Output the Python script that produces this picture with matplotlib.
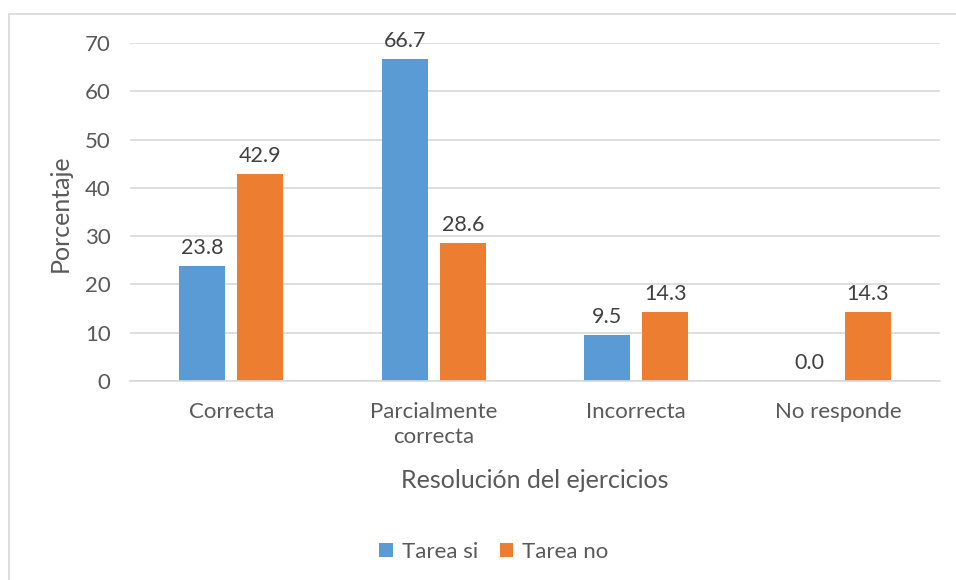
import matplotlib.pyplot as plt
import numpy as np
from matplotlib.patches import Rectangle

plt.rcParams['font.family'] = ['Lato', 'DejaVu Sans']

# datos
categorias = ["Correcta", "Parcialmente\ncorrecta", "Incorrecta", "No responde"]
tarea_si = [23.8, 66.7, 9.5, 0.0]
tarea_no = [42.9, 28.6, 14.3, 14.3]
series = ["Tarea si", "Tarea no"]

azul = "#5B9BD5"
naranja = "#ED7D31"
gris = "#595959"

fig = plt.figure(figsize=(9.56, 5.8), dpi=100)
ax = fig.add_axes([130/956, 1-381/580, 810/956, 338/580])

x = np.arange(len(categorias))
ancho = 0.227
sep = 0.03
b1 = ax.bar(x - ancho/2 - sep, tarea_si, ancho, color=azul, label=series[0])
b2 = ax.bar(x + ancho/2 + sep, tarea_no, ancho, color=naranja, label=series[1])

for barras in (b1, b2):
    for b in barras:
        ax.text(b.get_x() + b.get_width()/2, b.get_height() + 1.6,
                f"{b.get_height():.1f}", ha="center", va="bottom",
                fontsize=15.5, color="#404040")

ax.set_xlim(-0.5, 3.5)
ax.set_ylim(0, 70)
ax.set_yticks(range(0, 71, 10))
ax.set_xticks(x)
ax.set_xticklabels(categorias, linespacing=1.35)
ax.grid(axis="y", color="#d9d9d9", linewidth=1.2)
ax.set_axisbelow(True)
for s in ["top", "right", "left"]:
    ax.spines[s].set_visible(False)
ax.spines["bottom"].set_color("#d9d9d9")
ax.spines["bottom"].set_linewidth(1.2)
ax.tick_params(axis="both", length=0, labelsize=16, labelcolor=gris)
ax.tick_params(axis="y", pad=14)
ax.tick_params(axis="x", pad=15)

fig.text(535/956, 1-481/580, "Resolución del ejercicios", ha="center", va="center",
         fontsize=18, color=gris)
fig.text(60/956, 1-213/580, "Porcentaje", ha="center", va="center",
         rotation=90, fontsize=18, color=gris)

fig.legend(handles=[b1, b2], labels=series, loc="center", bbox_to_anchor=(494/956, 1-552/580),
           ncol=2, frameon=False, fontsize=16, handlelength=0.6, handleheight=0.6,
           handletextpad=0.4, columnspacing=1.0, labelcolor=gris)

# borde del grafico
fig.patches.append(Rectangle((9/956, -0.01), 1.0, 1-14/580 + 0.01, transform=fig.transFigure,
                             fill=False, edgecolor="#d9d9d9", linewidth=1.2))

plt.savefig("out.png", dpi=100)
